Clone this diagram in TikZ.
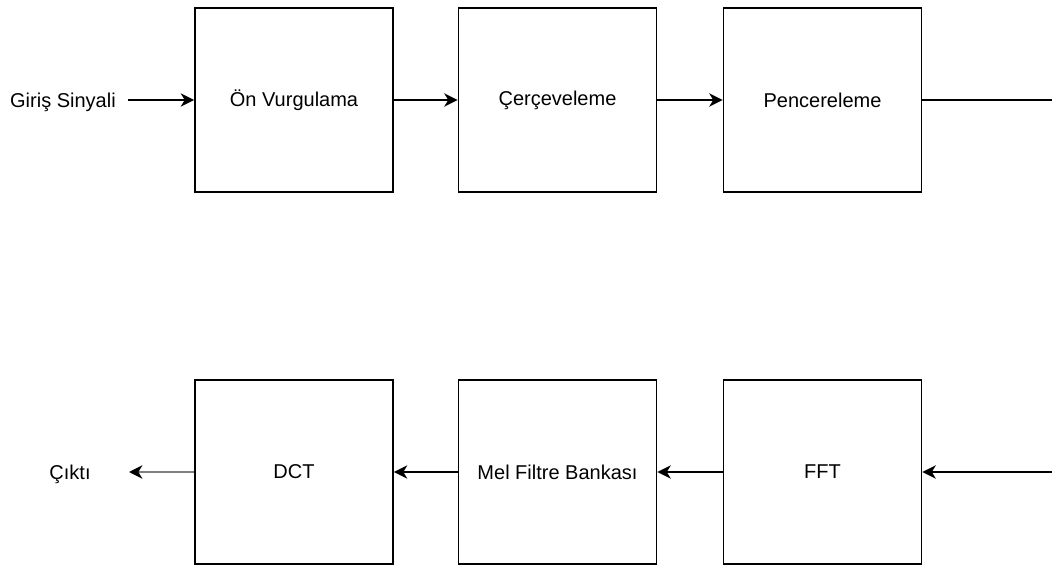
\documentclass[tikz,border=0pt]{standalone}
\usepackage{fontspec}
\setmainfont{Liberation Sans}
\usetikzlibrary{arrows.meta}
\begin{document}
\begin{tikzpicture}[x=0.75pt,y=-0.75pt,
  blk/.style={draw,line width=1.4pt,minimum width=148.5pt,minimum height=138pt,inner sep=0pt,font=\fontsize{15}{18}\selectfont},
  lbl/.style={font=\fontsize{15}{18}\selectfont,inner sep=0pt},
  conn/.style={line width=1.4pt,-{Stealth[length=10pt,width=10pt,inset=3pt]}},
  wire/.style={line width=1.4pt}]
\useasboundingbox (0,0) rectangle (1052,566);
\node[blk] (b1) at (294,100) {Ön Vurgulama};
\node[blk] (b2) at (557.5,100) {Çerçeveleme};
\node[blk] (b3) at (822.5,100) {Pencereleme};
\node[blk] (b4) at (294,472) {DCT};
\node[blk] (b5) at (557.5,472) {Mel Filtre Bankası};
\node[blk] (b6) at (822.5,472) {FFT};
\node[lbl,anchor=east] (in) at (116,102) {Giriş Sinyali};
\node[lbl] (out) at (70,474) {Çıktı};
\coordinate (r1) at (1052,100);
\coordinate (r2) at (1052,472);
\coordinate (t1) at (128,100);
\coordinate (t2) at (129,472);
\draw[conn] (t1) -- (b1.west);
\draw[conn] (b1.east) -- (b2.west);
\draw[conn] (b2.east) -- (b3.west);
\draw[wire] (b3.east) -- (r1);
\draw[conn] (r2) -- (b6.east);
\draw[conn] (b6.west) -- (b5.east);
\draw[conn] (b5.west) -- (b4.east);
\draw[line width=1.9pt,draw=gray,-{Stealth[length=10pt,width=10pt,inset=3pt,color=black]}] (b4.west) -- (t2);
\end{tikzpicture}
\end{document}
